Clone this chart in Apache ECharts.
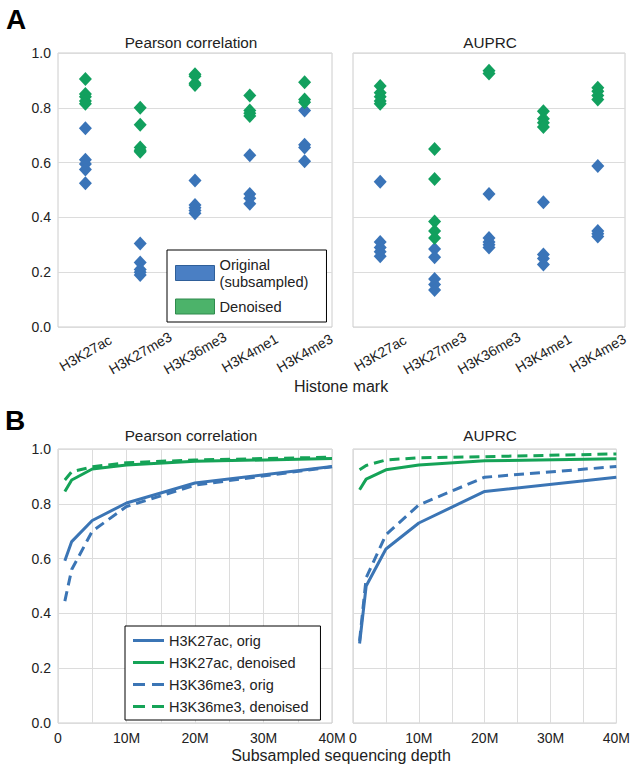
<!DOCTYPE html>
<html>
<head>
<meta charset="utf-8">
<script src="https://cdn.jsdelivr.net/npm/echarts@6/dist/echarts.min.js"></script>
<style>
html,body{margin:0;padding:0;background:#fff;}
#chart{width:633px;height:767px;}
</style>
</head>
<body>
<div id="chart"></div>
<script>
// ---------- Data ----------
const categories = ['H3K27ac', 'H3K27me3', 'H3K36me3', 'H3K4me1', 'H3K4me3'];
const yTicks = [0, 0.2, 0.4, 0.6, 0.8, 1.0];

// Panel A: per-category values (one list per histone mark)
const pearsonOriginal = [[0.725, 0.61, 0.595, 0.575, 0.525], [0.305, 0.235, 0.21, 0.2, 0.19], [0.535, 0.445, 0.435, 0.425, 0.415], [0.627, 0.485, 0.47, 0.45], [0.79, 0.665, 0.655, 0.605]];
const pearsonDenoised = [[0.905, 0.85, 0.84, 0.825, 0.815], [0.80, 0.738, 0.655, 0.645, 0.64], [0.922, 0.915, 0.89, 0.883], [0.845, 0.79, 0.78, 0.77], [0.893, 0.83, 0.82]];
const auprcOriginal = [[0.53, 0.31, 0.29, 0.275, 0.258], [0.285, 0.255, 0.175, 0.155, 0.135], [0.485, 0.325, 0.31, 0.30, 0.29], [0.455, 0.265, 0.25, 0.228], [0.588, 0.35, 0.34, 0.33]];
const auprcDenoised = [[0.88, 0.855, 0.84, 0.825, 0.815], [0.65, 0.54, 0.385, 0.35, 0.325], [0.935, 0.925], [0.787, 0.76, 0.745, 0.73], [0.873, 0.86, 0.845, 0.83]];

// Panel B: subsampled depth (millions of reads)
const depthM = [1, 2, 5, 10, 20, 40];
const xTickLabels = ['0', '10M', '20M', '30M', '40M'];
const pearsonK27acOrig = [0.592, 0.662, 0.739, 0.803, 0.876, 0.936];
const pearsonK27acDen = [0.845, 0.887, 0.927, 0.942, 0.955, 0.965];
const pearsonK36Orig = [0.445, 0.56, 0.70, 0.79, 0.868, 0.935];
const pearsonK36Den = [0.887, 0.917, 0.935, 0.95, 0.96, 0.97];
const auprcK27acOrig = [0.29, 0.50, 0.635, 0.73, 0.845, 0.897];
const auprcK27acDen = [0.851, 0.89, 0.924, 0.942, 0.957, 0.964];
const auprcK36Orig = [0.30, 0.53, 0.687, 0.796, 0.897, 0.936];
const auprcK36Den = [0.924, 0.94, 0.96, 0.968, 0.972, 0.982];

// ---------- Styling ----------
const FONT = '"Liberation Sans", Arial, Helvetica, sans-serif';
const TXT = '#222222';
const BLUE = '#3a74b8';
const GREEN = '#12a05e';
const LBLUE = '#3b75b5';
const LGREEN = '#15a357';
const GRID_LINE = '#dcdcdc';
const BORDER = '#cccccc';

const NAME_ORIG = 'Original\n(subsampled)';
const NAME_DEN = 'Denoised';
const L1 = 'H3K27ac, orig', L2 = 'H3K27ac, denoised', L3 = 'H3K36me3, orig', L4 = 'H3K36me3, denoised';
const SOLID_ICON = 'path://M0,0H31V3H0Z';
const DASH_ICON = 'path://M0,0H12V3H0Z M19,0H31V3H19Z';

function toPoints(groups) {
  const out = [];
  groups.forEach((vals, i) => vals.forEach(v => out.push([categories[i], v])));
  return out;
}
function toLine(ys) { return depthM.map((x, i) => [x, ys[i]]); }

const grids = [
  {left: 58, top: 53, width: 274, height: 274},
  {left: 353, top: 53, width: 272, height: 274},
  {left: 58, top: 449, width: 274, height: 274},
  {left: 353, top: 449, width: 273, height: 274}
].map(g => Object.assign({show: true, borderColor: BORDER, borderWidth: 1, backgroundColor: 'transparent'}, g));

function catAxis(idx) {
  return {
    type: 'category', gridIndex: idx, data: categories, boundaryGap: true,
    axisLine: {show: false}, axisTick: {show: false}, splitLine: {show: false},
    axisLabel: {rotate: 30, align: 'center', verticalAlign: 'middle', margin: 26,
      fontSize: 14, color: TXT, fontFamily: FONT, interval: 0}
  };
}
function depthAxis(idx) {
  return {
    type: 'value', gridIndex: idx, min: 0, max: 40, interval: 5,
    axisLine: {show: false}, axisTick: {show: false},
    splitLine: {show: true, lineStyle: {color: GRID_LINE, width: 1}},
    axisLabel: {fontSize: 14, color: TXT, fontFamily: FONT, margin: 8,
      formatter: v => (v % 10 === 0 ? xTickLabels[v / 10] : '')}
  };
}
function valAxis(idx, showLabels) {
  return {
    type: 'value', gridIndex: idx, min: yTicks[0], max: yTicks[yTicks.length - 1], interval: 0.2,
    axisLine: {show: false}, axisTick: {show: false},
    splitLine: {show: true, lineStyle: {color: GRID_LINE, width: 1}},
    axisLabel: {show: showLabels, fontSize: 14, color: TXT, fontFamily: FONT, margin: 7,
      formatter: v => v.toFixed(1)}
  };
}

function scatter(name, data, color, idx) {
  return {type: 'scatter', name, xAxisIndex: idx, yAxisIndex: idx, data: toPoints(data),
    symbol: 'diamond', symbolSize: [13, 14], itemStyle: {color, opacity: 1}, z: name === NAME_DEN ? 3 : 2};
}
function line(name, ys, color, dashed, idx) {
  return {type: 'line', name, xAxisIndex: idx, yAxisIndex: idx, data: toLine(ys),
    symbol: 'none', showSymbol: false, smooth: false,
    lineStyle: {color, width: 3, type: dashed ? [10, 6] : 'solid'}, itemStyle: {color}};
}

function label(text, x, y, size, weight) {
  return {type: 'text', x, y, silent: true,
    style: {text, fontSize: size, fontWeight: weight || 'normal', fontFamily: FONT, fill: weight === 'bold' ? '#000' : TXT,
      align: 'center', verticalAlign: 'middle'}};
}

const option = {
  backgroundColor: '#ffffff',
  animation: false,
  grid: grids,
  xAxis: [catAxis(0), catAxis(1), depthAxis(2), depthAxis(3)],
  yAxis: [valAxis(0, true), valAxis(1, false), valAxis(2, true), valAxis(3, false)],
  legend: [
    {
      orient: 'vertical', left: 167, top: 250,
      data: [
        {name: NAME_ORIG, icon: 'rect', itemStyle: {color: '#4a7fc4', borderColor: '#2f5f99', borderWidth: 1}},
        {name: NAME_DEN, icon: 'rect', itemStyle: {color: '#4cb36a', borderColor: '#2f8a4c', borderWidth: 1}}
      ],
      itemWidth: 39, itemHeight: 15, itemGap: 8,
      padding: [6, 18, 7, 8],
      borderColor: '#000', borderWidth: 1, backgroundColor: '#fff',
      textStyle: {fontSize: 14.7, color: TXT, fontFamily: FONT, lineHeight: 17},
      selectedMode: false
    },
    {
      orient: 'vertical', left: 125, top: 626,
      data: [
        {name: L1, icon: SOLID_ICON, itemStyle: {color: LBLUE, borderWidth: 0}},
        {name: L2, icon: SOLID_ICON, itemStyle: {color: LGREEN, borderWidth: 0}},
        {name: L3, icon: DASH_ICON, itemStyle: {color: LBLUE, borderWidth: 0}},
        {name: L4, icon: DASH_ICON, itemStyle: {color: LGREEN, borderWidth: 0}}
      ],
      itemWidth: 31, itemHeight: 3, itemGap: 5,
      padding: [6, 12, 5, 8],
      borderColor: '#000', borderWidth: 1, backgroundColor: '#fff',
      textStyle: {fontSize: 14.5, color: TXT, fontFamily: FONT, lineHeight: 17},
      selectedMode: false
    }
  ],
  graphic: [
    label('A', 16, 19, 28, 'bold'),
    label('B', 15, 420, 28, 'bold'),
    label('Pearson correlation', 191, 42, 15.3),
    label('AUPRC', 490, 42, 15.3),
    label('Histone mark', 341, 386, 16),
    label('Pearson correlation', 191, 435, 15.3),
    label('AUPRC', 490, 435, 15.3),
    label('Subsampled sequencing depth', 341, 755, 16)
  ],
  series: [
    scatter(NAME_ORIG, pearsonOriginal, BLUE, 0),
    scatter(NAME_DEN, pearsonDenoised, GREEN, 0),
    scatter(NAME_ORIG, auprcOriginal, BLUE, 1),
    scatter(NAME_DEN, auprcDenoised, GREEN, 1),
    line(L1, pearsonK27acOrig, LBLUE, false, 2),
    line(L2, pearsonK27acDen, LGREEN, false, 2),
    line(L3, pearsonK36Orig, LBLUE, true, 2),
    line(L4, pearsonK36Den, LGREEN, true, 2),
    line(L1, auprcK27acOrig, LBLUE, false, 3),
    line(L2, auprcK27acDen, LGREEN, false, 3),
    line(L3, auprcK36Orig, LBLUE, true, 3),
    line(L4, auprcK36Den, LGREEN, true, 3)
  ]
};

const chart = echarts.init(document.getElementById('chart'), null, {renderer: 'svg', width: 633, height: 767});
chart.setOption(option);
</script>
</body>
</html>
